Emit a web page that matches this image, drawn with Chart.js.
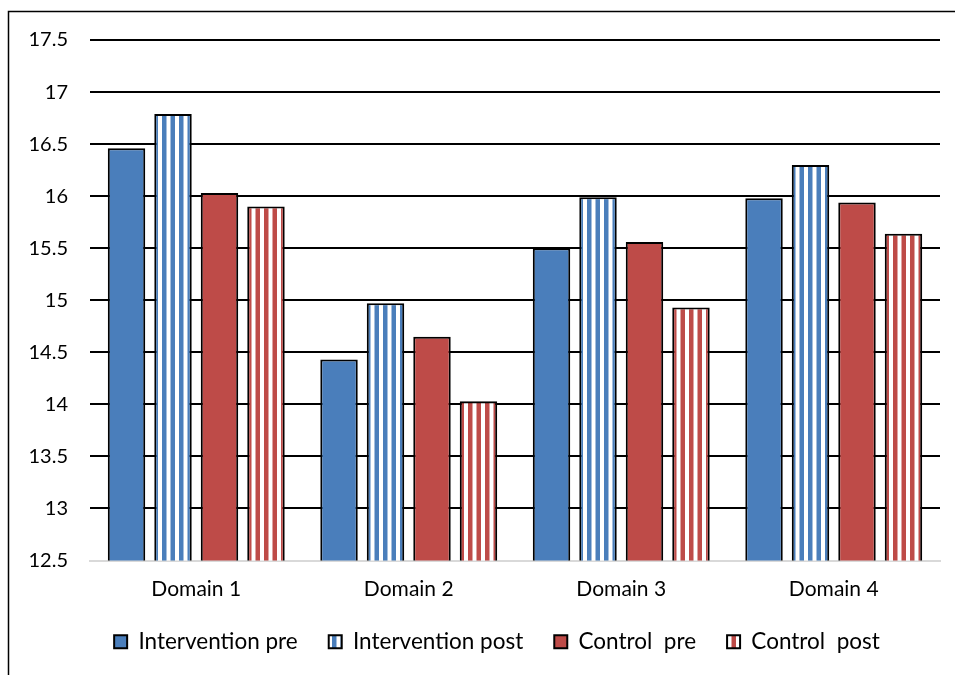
<!DOCTYPE html>
<html>
<head>
<meta charset="utf-8">
<script src="https://cdn.jsdelivr.net/npm/chart.js@4/dist/chart.umd.min.js"></script>
<style>
  html, body { margin: 0; padding: 0; background: #fff; }
  #wrap { width: 955px; height: 675px; position: relative; }
</style>
</head>
<body>
<div id="wrap"><canvas id="c" width="955" height="675"></canvas></div>
<script>
const categories = ['Domain 1', 'Domain 2', 'Domain 3', 'Domain 4'];
const seriesNames = ['Intervention pre', 'Intervention post', 'Control  pre', 'Control  post'];
const interventionPre  = [16.46, 14.43, 15.50, 15.98];
const interventionPost = [16.79, 14.97, 15.99, 16.30];
const controlPre       = [16.03, 14.65, 15.56, 15.94];
const controlPost      = [15.90, 14.03, 14.93, 15.64];
const yTicks = [12.5, 13, 13.5, 14, 14.5, 15, 15.5, 16, 16.5, 17, 17.5];

const BLUE = '#4a7ebb';
const RED = '#be4b48';
const FONT = 'Lato, "Liberation Sans", sans-serif';

// vertical stripe fill: coloured stripes on white
function stripes(color) {
  const t = document.createElement('canvas');
  t.width = 17; t.height = 8;
  const g = t.getContext('2d');
  g.fillStyle = '#fff';
  g.fillRect(0, 0, 17, 8);
  g.fillStyle = color;
  g.fillRect(0.5, 0, 4.5, 8);
  g.fillRect(9, 0, 4.5, 8);
  return g.createPattern(t, 'repeat');
}

// outer frame: left and top edges
const framePlugin = {
  id: 'frame',
  afterDraw(chart) {
    const ctx = chart.ctx;
    ctx.save();
    ctx.strokeStyle = '#000';
    ctx.lineWidth = 1.5;
    ctx.beginPath();
    ctx.moveTo(8.5, 675);
    ctx.lineTo(8.5, 11.5);
    ctx.lineTo(955, 11.5);
    ctx.stroke();
    ctx.restore();
  }
};

// centre the legend row under the plot area rather than the whole canvas
const legendShift = {
  id: 'legendShift',
  afterLayout(chart) {
    const lg = chart.legend;
    if (lg) { lg.left += 22; lg.right += 22; }
  }
};

const values = [interventionPre, interventionPost, controlPre, controlPost];
const fills = [BLUE, stripes(BLUE), RED, stripes(RED)];

new Chart(document.getElementById('c'), {
  type: 'bar',
  data: {
    labels: categories,
    datasets: seriesNames.map((name, i) => ({
      label: name,
      data: values[i],
      backgroundColor: fills[i],
      borderColor: '#000',
      borderWidth: 2,
      borderSkipped: false,
      categoryPercentage: 0.875,
      barPercentage: 0.806
    }))
  },
  options: {
    responsive: false,
    animation: false,
    devicePixelRatio: 1,
    layout: { padding: { left: 10, right: 15, top: 40, bottom: 12 } },
    plugins: {
      tooltip: { enabled: false },
      legend: {
        position: 'bottom',
        labels: {
          font: { family: FONT, size: 22.5 },
          color: '#000',
          boxWidth: 13,
          boxHeight: 13,
          padding: 31,
          useBorderRadius: false
        }
      }
    },
    scales: {
      x: {
        afterFit(scale) { scale.height = 39; },
        grid: { display: false, drawTicks: false },
        border: { display: true, color: '#d9d9d9', width: 2 },
        ticks: { font: { family: FONT, size: 21, lineHeight: 1 }, color: '#000', padding: 18 }
      },
      y: {
        min: 12.5,
        max: 17.5,
        afterFit(scale) { scale.width = 80; },
        afterBuildTicks(scale) { scale.ticks = yTicks.map(v => ({ value: v })); },
        grid: {
          color: (c) => c.tick && c.tick.value === 12.5 ? 'rgba(0,0,0,0)' : '#000',
          lineWidth: 2,
          drawTicks: false
        },
        border: { display: false },
        ticks: {
          font: { family: FONT, size: 20 },
          color: '#000',
          padding: 22,
          callback: (v) => String(v)
        }
      }
    }
  },
  plugins: [framePlugin, legendShift]
});
</script>
</body>
</html>
